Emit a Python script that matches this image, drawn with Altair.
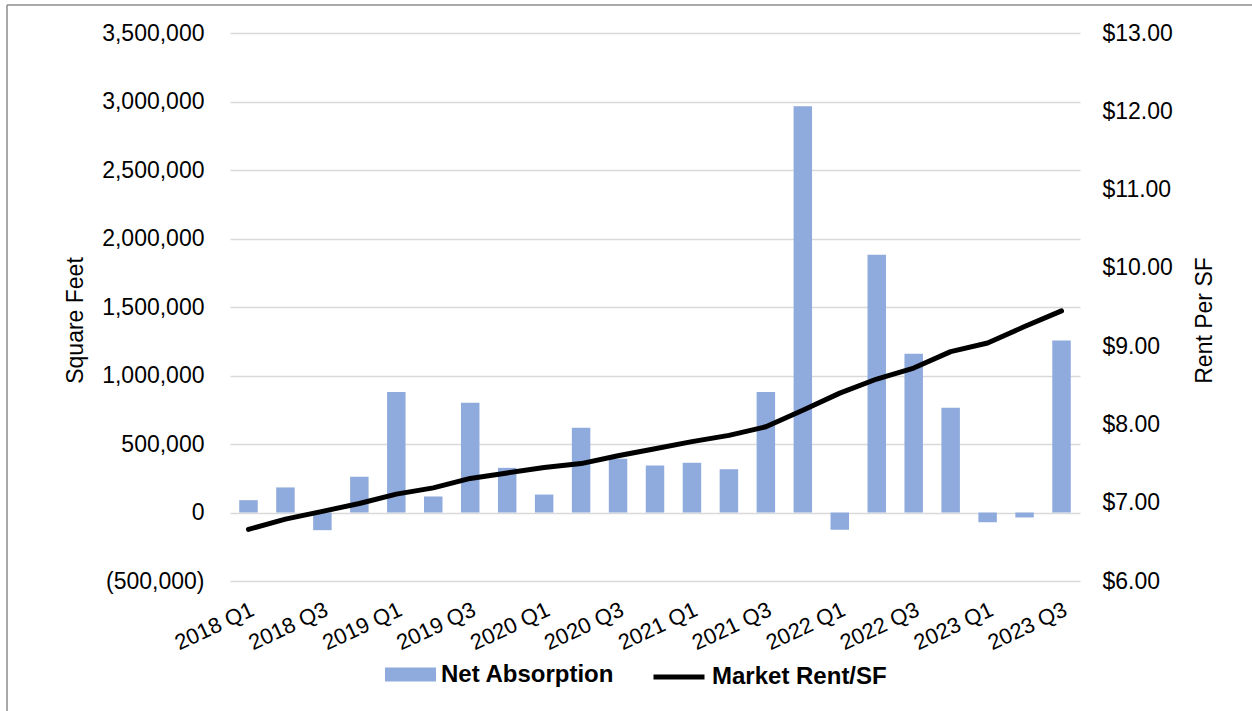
import altair as alt
import pandas as pd

quarters = [
    "2018 Q1", "2018 Q2", "2018 Q3", "2018 Q4",
    "2019 Q1", "2019 Q2", "2019 Q3", "2019 Q4",
    "2020 Q1", "2020 Q2", "2020 Q3", "2020 Q4",
    "2021 Q1", "2021 Q2", "2021 Q3", "2021 Q4",
    "2022 Q1", "2022 Q2", "2022 Q3", "2022 Q4",
    "2023 Q1", "2023 Q2", "2023 Q3",
]
net_absorption = [
    90000, 183000, -129000, 261000,
    879000, 117000, 801000, 326000,
    131000, 619000, 392000, 343000,
    363000, 316000, 879000, 2966000,
    -126000, 1882000, 1159000, 765000,
    -71000, -36000, 1256000,
]
market_rent = [
    6.66, 6.79, 6.89, 6.99,
    7.11, 7.19, 7.31, 7.38,
    7.45, 7.50, 7.60, 7.69,
    7.78, 7.86, 7.97, 8.18,
    8.40, 8.58, 8.72, 8.93,
    9.04, 9.25, 9.45,
]
x_tick_labels = ["2018 Q1", "2018 Q3", "2019 Q1", "2019 Q3", "2020 Q1", "2020 Q3",
                 "2021 Q1", "2021 Q3", "2022 Q1", "2022 Q3", "2023 Q1", "2023 Q3"]
left_ticks = [-500000, 0, 500000, 1000000, 1500000, 2000000, 2500000, 3000000, 3500000]
right_ticks = [6, 7, 8, 9, 10, 11, 12, 13]
series_names = ["Net Absorption", "Market Rent/SF"]

df = pd.DataFrame({
    "Quarter": quarters,
    "NetAbsorption": net_absorption,
    "MarketRent": market_rent,
})
df["bar_series"] = series_names[0]
df["line_series"] = series_names[1]

FONT = "Liberation Sans"
BAR_COLOR = "#8FAADC"

legend_common = dict(
    title=None,
    orient="none",
    direction="horizontal",
    labelFont=FONT,
    labelFontSize=24,
    labelFontWeight="bold",
    labelColor="#000000",
    labelOffset=5,
    labelLimit=600,
    symbolSize=2601,
    padding=0,
)

bar_legend = alt.Legend(
    legendX=155,
    legendY=616,
    symbolType="M-1,-0.275H1V0.275H-1Z",
    symbolStrokeWidth=0,
    **legend_common,
)
line_legend = alt.Legend(
    legendX=421,
    legendY=616,
    symbolType="stroke",
    symbolStrokeWidth=5,
    **legend_common,
)

x_enc = alt.X(
    "Quarter:N",
    sort=quarters,
    title=None,
    scale=alt.Scale(paddingInner=0.5, paddingOuter=0.25),
    axis=alt.Axis(
        values=x_tick_labels,
        labelAngle=-25,
        labelFont=FONT,
        labelFontSize=22,
        labelColor="#000000",
        labelPadding=18,
        ticks=False,
        domain=False,
        grid=False,
    ),
)

bars = alt.Chart(df).mark_bar().encode(
    x=x_enc,
    y=alt.Y(
        "NetAbsorption:Q",
        scale=alt.Scale(domain=[-500000, 3500000], nice=False, zero=False),
        axis=alt.Axis(
            orient="left",
            values=left_ticks,
            labelExpr="datum.value < 0 ? '(' + format(-datum.value, ',') + ')' : format(datum.value, ',')",
            title="Square Feet",
            titleFont=FONT,
            titleFontSize=23,
            titleFontWeight="normal",
            titleColor="#000000",
            titlePadding=14,
            titleY=287,
            labelFont=FONT,
            labelFontSize=23,
            labelColor="#000000",
            labelPadding=26,
            grid=True,
            gridColor="#D9D9D9",
            gridWidth=1.5,
            domain=False,
            ticks=False,
        ),
    ),
    fill=alt.Fill("bar_series:N", scale=alt.Scale(domain=[series_names[0]], range=[BAR_COLOR]),
                  legend=bar_legend),
)

line = alt.Chart(df).mark_line(strokeWidth=5, strokeCap="round", strokeJoin="round").encode(
    x=alt.X("Quarter:N", sort=quarters),
    y=alt.Y(
        "MarketRent:Q",
        scale=alt.Scale(domain=[6, 13], nice=False, zero=False),
        axis=alt.Axis(
            orient="right",
            values=right_ticks,
            format="$.2f",
            title="Rent Per SF",
            titleAngle=270,
            titleBaseline="top",
            titleFont=FONT,
            titleFontSize=23,
            titleFontWeight="normal",
            titleColor="#000000",
            titlePadding=21,
            titleY=287,
            labelFont=FONT,
            labelFontSize=23,
            labelColor="#000000",
            labelPadding=22,
            grid=False,
            domain=False,
            ticks=False,
        ),
    ),
    stroke=alt.Stroke("line_series:N", scale=alt.Scale(domain=[series_names[1]], range=["#000000"]),
                      legend=line_legend),
)

frame_df = pd.DataFrame({"k": [0]})
frame_top = alt.Chart(frame_df).mark_rule(color="#8C8C8C", strokeWidth=1.5).encode(
    x=alt.value(-223), x2=alt.value(1030), y=alt.value(-28)
)
frame_left = alt.Chart(frame_df).mark_rule(color="#8C8C8C", strokeWidth=1.5).encode(
    x=alt.value(-223), y=alt.value(-28), y2=alt.value(700)
)

chart = alt.layer(bars, line, frame_top, frame_left).resolve_scale(
    y="independent"
).properties(
    width=850,
    height=548,
    autosize=alt.AutoSizeParams(type="none"),
    padding={"left": 230, "top": 33, "right": 172, "bottom": 130},
    background="white",
).configure_view(stroke=None)

chart.save("out.html", embed_options={"renderer": "svg", "actions": False})
